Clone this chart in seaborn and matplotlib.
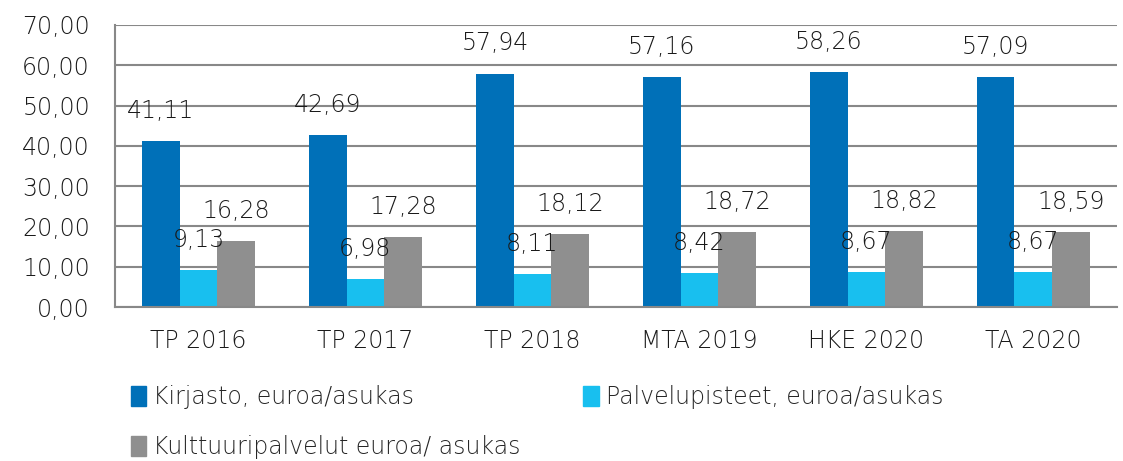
import matplotlib
matplotlib.use("Agg")
import matplotlib.pyplot as plt
import matplotlib.patches as mpatches
import seaborn as sb
import pandas as pd
import numpy as np

categories = ["TP 2016", "TP 2017", "TP 2018", "MTA 2019", "HKE 2020", "TA 2020"]
kirjasto = [41.11, 42.69, 57.94, 57.16, 58.26, 57.09]
palvelupisteet = [9.13, 6.98, 8.11, 8.42, 8.67, 8.67]
kulttuuri = [16.28, 17.28, 18.12, 18.72, 18.82, 18.59]
series_names = ["Kirjasto, euroa/asukas", "Palvelupisteet, euroa/asukas",
                "Kulttuuripalvelut euroa/ asukas"]
colors = ["#0070B8", "#18BFEF", "#8F8F8F"]

df = pd.DataFrame({
    "kausi": categories * 3,
    "sarja": [series_names[0]] * 6 + [series_names[1]] * 6 + [series_names[2]] * 6,
    "arvo": kirjasto + palvelupisteet + kulttuuri,
})

sb.set_style("white")
plt.rcParams["font.family"] = ["DejaVu Sans"]
plt.rcParams["font.weight"] = "light"
fs = 17

fig = plt.figure(figsize=(11.23, 4.61), dpi=100)
ax = fig.add_axes([0.1024, 0.334, 0.892, 0.612])

sb.barplot(data=df, x="kausi", y="arvo", hue="sarja", palette=colors,
           width=0.675, saturation=1, linewidth=0, ax=ax, legend=False)

for cont in ax.containers:
    vals = [b.get_height() for b in cont]
    ax.bar_label(cont, labels=[f"{v:.2f}".replace(".", ",") for v in vals],
                 padding=13, fontsize=fs, color="#1a1a1a")

ax.set_ylim(0, 70)
ax.set_yticks(np.arange(0, 71, 10))
ax.set_yticklabels([f"{v:.2f}".replace(".", ",") for v in np.arange(0, 71, 10)],
                   fontsize=fs, color="#1a1a1a")
ax.set_xlim(-0.5, len(categories) - 0.5)
ax.set_xticks(range(len(categories)))
ax.set_xticklabels(categories, fontsize=fs, color="#1a1a1a")
ax.set_xticks(np.arange(-0.5, len(categories)), minor=True)
ax.tick_params(axis="x", which="major", length=0, pad=16)
ax.tick_params(axis="x", which="minor", length=8, width=1.5, color="#888888", direction="out")
ax.tick_params(axis="y", length=6, width=1.5, color="#888888", direction="out", pad=12)
ax.set_xlabel("")
ax.set_ylabel("")

ax.yaxis.grid(True, color="#888888", linewidth=1.5)
ax.set_axisbelow(True)
for side in ["top", "right"]:
    ax.spines[side].set_visible(False)
for side in ["left", "bottom"]:
    ax.spines[side].set_color("#888888")
    ax.spines[side].set_linewidth(1.5)

# legend fills column by column, so order handles to get the rows right
order = [0, 2, 1]
handles = [mpatches.Patch(color=colors[i], label=series_names[i]) for i in order]
fig.legend(handles=handles, ncol=2, loc="upper left", bbox_to_anchor=(0.106, 0.19),
           frameon=False, fontsize=fs, handlelength=0.65, handleheight=0.9,
           handletextpad=0.3, columnspacing=2.65, labelspacing=1.09, borderpad=0)

fig.savefig("out.png", dpi=100)
plt.close()
